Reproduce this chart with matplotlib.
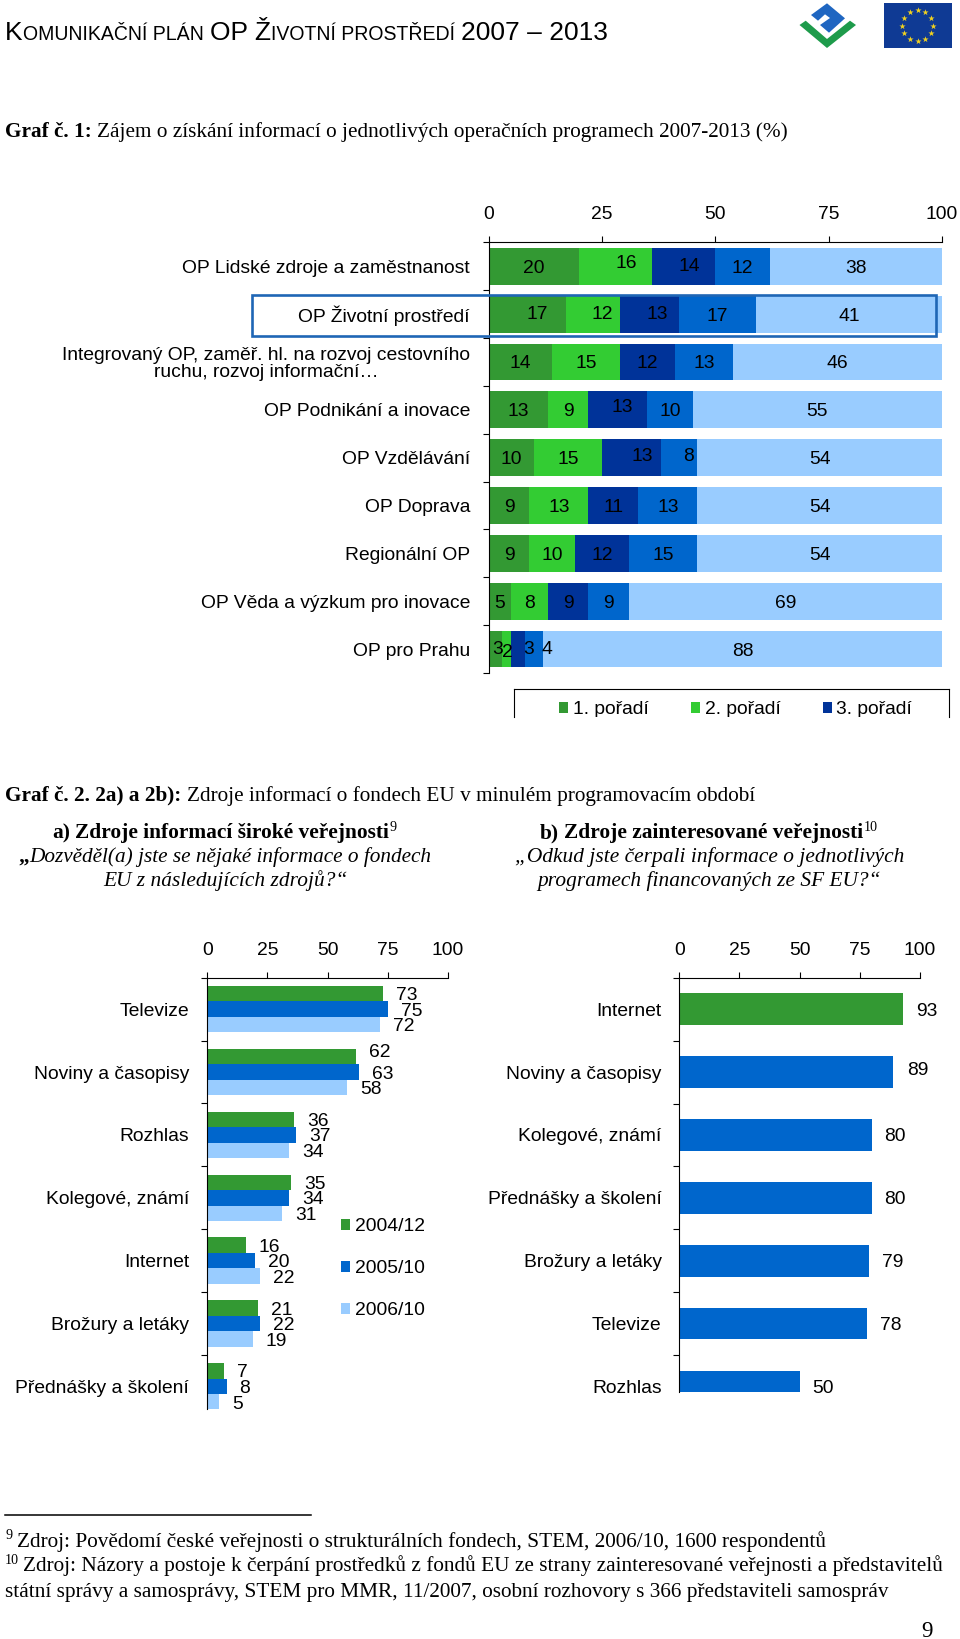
import matplotlib
matplotlib.use("Agg")
import matplotlib.pyplot as plt
import numpy as np
from matplotlib.patches import Rectangle, Polygon
from matplotlib.lines import Line2D
from matplotlib.transforms import Bbox

W, H = 960, 1639
DPI = 100
PX = 72 / DPI
SANS = "Liberation Sans"
SERIF = "Liberation Serif"

# ---- data: chart 1
programmes = ["OP Lidské zdroje a zaměstnanost", "OP Životní prostředí",
              "Integrovaný OP, zaměř. hl. na rozvoj cestovního\nruchu, rozvoj informační…",
              "OP Podnikání a inovace", "OP Vzdělávání", "OP Doprava", "Regionální OP",
              "OP Věda a výzkum pro inovace", "OP pro Prahu"]
rank1 = [20, 17, 14, 13, 10, 9, 9, 5, 3]
rank2 = [16, 12, 15, 9, 15, 13, 10, 8, 2]
rank3 = [14, 13, 12, 13, 13, 11, 12, 9, 3]
rank4 = [12, 17, 13, 10, 8, 13, 15, 9, 4]
rank5 = [38, 41, 46, 55, 54, 54, 54, 69, 88]
rank_names = ["1. pořadí", "2. pořadí", "3. pořadí"]

# ---- data: chart 2a
public_sources = ["Televize", "Noviny a časopisy", "Rozhlas", "Kolegové, známí",
                  "Internet", "Brožury a letáky", "Přednášky a školení"]
wave_2004 = [73, 62, 36, 35, 16, 21, 7]
wave_2005 = [75, 63, 37, 34, 20, 22, 8]
wave_2006 = [72, 58, 34, 31, 22, 19, 5]
wave_names = ["2004/12", "2005/10", "2006/10"]

# ---- data: chart 2b
expert_sources = ["Internet", "Noviny a časopisy", "Kolegové, známí", "Přednášky a školení",
                  "Brožury a letáky", "Televize", "Rozhlas"]
expert_values = [93, 89, 80, 80, 79, 78, 50]

pct_ticks = [0, 25, 50, 75, 100]

# ---- style
C_DGREEN, C_LGREEN, C_DBLUE, C_MBLUE, C_LBLUE = "#339933", "#33CC33", "#003399", "#0066CC", "#99CCFF"
LABEL_PX = 19.25
# pixel nudges of the individual data labels (row, segment): (dx, dy)
nudge1 = {(0, 1): (11, -5), (0, 2): (6, -2), (1, 0): (10, -2), (1, 1): (9, -2), (1, 2): (8, -2),
          (3, 2): (4, -4), (4, 2): (11, -3), (4, 3): (9, -3), (8, 0): (2, -2), (8, 1): (1, 1),
          (8, 2): (10, -2), (8, 3): (13, -2)}
nudge2a = {(1, 0): (0, -6)}
nudge2b = {1: (1, -4)}

fig = plt.figure(figsize=(W / DPI, H / DPI), dpi=DPI, facecolor="white")
renderer = fig.canvas.get_renderer()

ov = fig.add_axes([0, 0, 1, 1], zorder=0)
ov.set_xlim(0, W)
ov.set_ylim(H, 0)
ov.axis("off")


def axpx(x0, x1, y0, y1):
    return fig.add_axes([x0 / W, 1 - y1 / H, (x1 - x0) / W, (y1 - y0) / H], zorder=2, facecolor="none")


def style_axes(ax, labels, n, pad_px, ybottom):
    ax.set_xlim(0, 100)
    ax.xaxis.set_ticks_position("top")
    ax.set_xticks(pct_ticks)
    ax.set_xticklabels([str(t) for t in pct_ticks], fontfamily=SANS, fontsize=LABEL_PX * PX)
    ax.tick_params(axis="x", length=6 * PX, width=0.8, pad=13 * PX, color="black")
    ax.set_yticks(range(n + 1))
    ax.set_yticklabels([""] * (n + 1))
    ax.set_yticks([i + 0.5 for i in range(n)], labels, minor=True, fontfamily=SANS, fontsize=LABEL_PX * PX,
                  multialignment="center", linespacing=1.0)
    ax.tick_params(axis="y", which="major", length=6 * PX, width=0.8, color="black")
    ax.tick_params(axis="y", which="minor", length=0, pad=pad_px * PX)
    ax.set_ylim(ybottom, 0)
    for s in ("right", "bottom"):
        ax.spines[s].set_visible(False)
    for s in ("top", "left"):
        ax.spines[s].set_linewidth(0.8)


def runs(parts, x0, x1, base, family=SERIF, size=20):
    """Lay a line of mixed-style runs between x0 and x1 (pixels), baseline at base."""
    items = []
    for p in parts:
        txt, weight, style = p[0], p[1], p[2]
        scale = p[3] if len(p) > 3 else 1.0
        lead = txt.startswith(" ")
        trail = txt.endswith(" ")
        t = ov.text(0, base, txt.strip(), family=family, fontweight=weight, fontstyle=style,
                    fontsize=size * scale * PX, va="baseline", ha="left", color="black")
        w = t.get_window_extent(renderer).width
        items.append([t, w, lead, trail, size * scale])
    total = 0
    for t, w, lead, trail, s in items:
        total += w + (0.25 * s if lead else 0) + (0.25 * s if trail else 0)
    k = (x1 - x0) / total
    x = x0
    for t, w, lead, trail, s in items:
        t.set_fontsize(s * k * PX)
        if lead:
            x += 0.25 * s * k
        t.set_x(x)
        x += w * k
        if trail:
            x += 0.25 * s * k


# ---- header
runs([("K", "normal", "normal", 1.0), ("OMUNIKAČNÍ PLÁN ", "normal", "normal", 0.74),
      ("OP Ž", "normal", "normal", 1.0), ("IVOTNÍ PROSTŘEDÍ ", "normal", "normal", 0.74),
      ("2007 – 2013", "normal", "normal", 1.0)], 5, 608, 40.5, family=SANS, size=22)

# logo
ov.add_patch(Polygon([(799.5, 25), (805.7, 20.7), (827, 39), (850, 20.7), (856, 25), (827, 48)],
                     closed=True, fc="#1E9B4B", ec="none"))
ov.add_patch(Polygon([(827, 3.3), (845, 18.3), (829, 32.7), (820, 25), (830, 18), (825, 14.3), (818, 20.7), (811, 15)],
                     closed=True, fc="#1F66C1", ec="none"))
# EU flag
ov.add_patch(Rectangle((884.3, 3.3), 67.4, 44.4, fc="#0F3A94", ec="none"))
ang = np.deg2rad(np.arange(0, 360, 30))
ov.scatter(917.7 + 15.5 * np.cos(ang), 25.7 + 15.5 * np.sin(ang), marker="*", s=22, c="#F2D21F", linewidths=0)

# ---- body text
SUP = 14
runs([("Graf č. 1: ", "bold", "normal"), ("Zájem o získání informací o jednotlivých operačních programech 2007-2013 (%)", "normal", "normal")],
     5, 790, 137)
runs([("Graf č. 2. 2a) a 2b): ", "bold", "normal"), ("Zdroje informací o fondech EU v minulém programovacím období", "normal", "normal")],
     5, 757, 800.5)
runs([("a) ", "bold", "normal"), ("Zdroje informací široké veřejnosti", "bold", "normal")], 52, 389, 838)
ov.text(389.5, 831, "9", family=SERIF, fontsize=SUP * PX, va="baseline")
runs([("b) ", "bold", "normal"), ("Zdroje zainteresované veřejnosti", "bold", "normal")], 540, 862, 838)
ov.text(864, 831, "10", family=SERIF, fontsize=SUP * PX, va="baseline")
runs([("„", "bold", "normal"), ("Dozvěděl(a) jste se nějaké informace o fondech", "normal", "italic")], 18.5, 432.5, 862)
runs([("EU z následujících zdrojů?“", "normal", "italic")], 103, 346, 886)
runs([("„Odkud jste čerpali informace o jednotlivých", "normal", "italic")], 515, 902, 862)
runs([("programech financovaných ze SF EU?“", "normal", "italic")], 537.5, 880, 886)

# footnotes
ov.add_line(Line2D([5, 311], [1515, 1515], color="black", lw=1.1))
ov.text(5, 1539, "9", family=SERIF, fontsize=SUP * PX, va="baseline")
runs([("Zdroj: Povědomí české veřejnosti o strukturálních fondech, STEM, 2006/10, 1600 respondentů", "normal", "normal")],
     17, 826, 1547)
ov.text(5, 1564, "10", family=SERIF, fontsize=SUP * PX, va="baseline")
runs([("Zdroj: Názory a postoje k čerpání prostředků z fondů EU ze strany zainteresované veřejnosti a představitelů", "normal", "normal")],
     23, 941, 1571.5)
runs([("státní správy a samosprávy, STEM pro MMR, 11/2007, osobní rozhovory s 366 představiteli samospráv", "normal", "normal")],
     5, 888, 1596.5)
ov.text(921, 1637, "9", family=SERIF, fontsize=23 * PX, va="baseline")

# ---- chart 1
ax1 = axpx(488.7, 942, 242.3, 673)
segments = [rank1, rank2, rank3, rank4, rank5]
colors1 = [C_DGREEN, C_LGREEN, C_DBLUE, C_MBLUE, C_LBLUE]
rows1 = np.arange(len(programmes)) + 0.5
left = np.zeros(len(programmes))
containers = []
for s, (vals, col) in enumerate(zip(segments, colors1)):
    vals = np.array(vals)
    c = ax1.barh(rows1, vals, left=left, height=0.77, color=col, linewidth=0)
    containers.append(c)
    for r in range(len(vals)):
        dx, dy = nudge1.get((r, s), (0, 0))
        ax1.annotate(str(vals[r]), (left[r] + vals[r] / 2, rows1[r]), xytext=(dx * PX, -dy * PX),
                     textcoords="offset points", ha="center", va="center_baseline",
                     family=SANS, fontsize=LABEL_PX * PX, color="black", zorder=5)
    left += vals
style_axes(ax1, programmes, len(programmes), 18.7, len(programmes))
ax1.add_patch(Rectangle((-52.3, 1.10), 150.9, 0.85, fc="none", ec="#1F66B5", lw=1.9, clip_on=False, zorder=6))

# chart 1 legend: the source image cuts it off at the bottom
LEG_CUT = 717
clip = Bbox([[0, (H - LEG_CUT)], [W, H]])
for xs, ys in (([514, 514], [717, 689]), ([514, 948.5], [689, 689]), ([948.5, 948.5], [689, 717])):
    ov.add_line(Line2D(xs, ys, color="black", lw=0.8))
leg1 = ax1.legend(containers[:3], rank_names, ncol=3, frameon=False, loc="upper left",
                  bbox_to_anchor=(558.7 / W, 1 - 701 / H), bbox_transform=fig.transFigure,
                  borderpad=0, borderaxespad=0, handlelength=0.48, handleheight=0.48, handletextpad=0.24,
                  columnspacing=2.2, prop={"family": SANS, "size": LABEL_PX * PX})
for t in leg1.get_texts():
    t.set_clip_on(True)
    t.set_clip_box(clip)

# ---- chart 2a
ax2 = axpx(207.3, 447.7, 977.7, 1408.5)
rows2 = np.arange(len(public_sources)) + 0.5
BH = 0.247
conts2 = []
for s, (vals, col) in enumerate(zip([wave_2004, wave_2005, wave_2006], [C_DGREEN, C_MBLUE, C_LBLUE])):
    ypos = rows2 + (s - 1) * BH
    c = ax2.barh(ypos, vals, height=BH, color=col, linewidth=0)
    conts2.append(c)
    for r, v in enumerate(vals):
        dx, dy = nudge2a.get((r, s), (0, 0))
        ax2.annotate(str(v), (v, ypos[r]), xytext=((13 + dx) * PX, -dy * PX), textcoords="offset points",
                     ha="left", va="center_baseline", family=SANS, fontsize=LABEL_PX * PX,
                     color="black", annotation_clip=False, zorder=5)
style_axes(ax2, public_sources, len(public_sources), 18.3, 6.85)
ax2.legend(conts2, wave_names, frameon=False, loc="upper left",
           bbox_to_anchor=(340.7 / W, 1 - 1218 / H), bbox_transform=fig.transFigure,
           borderpad=0, borderaxespad=0, handlelength=0.5, handleheight=0.5, handletextpad=0.26,
           labelspacing=1.3, prop={"family": SANS, "size": LABEL_PX * PX})

# ---- chart 2b
ax3 = axpx(679.3, 919.7, 977.7, 1392.3)
rows3 = np.arange(len(expert_sources)) + 0.5
colors3 = [C_DGREEN] + [C_MBLUE] * (len(expert_sources) - 1)
ax3.barh(rows3, expert_values, height=0.5, color=colors3, linewidth=0)
for r, v in enumerate(expert_values):
    dx, dy = nudge2b.get(r, (0, 0))
    ax3.annotate(str(v), (v, rows3[r]), xytext=((13 + dx) * PX, -dy * PX), textcoords="offset points",
                 ha="left", va="center_baseline", family=SANS, fontsize=LABEL_PX * PX,
                 color="black", annotation_clip=False, zorder=5)
style_axes(ax3, expert_sources, len(expert_sources), 17.6, 6.59)

fig.savefig("out.png", dpi=DPI)
